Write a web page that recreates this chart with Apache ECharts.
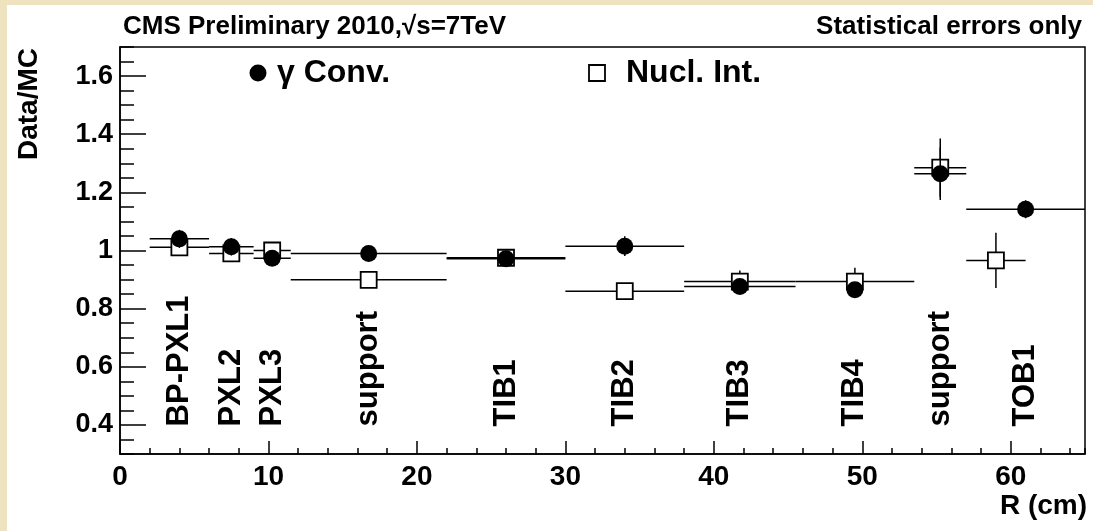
<!DOCTYPE html>
<html>
<head>
<meta charset="utf-8">
<script src="https://cdn.jsdelivr.net/npm/echarts@6/dist/echarts.min.js"></script>
<style>
html,body{margin:0;padding:0;background:#fff;}
#chart{width:1093px;height:531px;}
</style>
</head>
<body>
<div id="chart"></div>
<script>
// ---- data ----
const regionNames = ['BP-PXL1','PXL2','PXL3','support','TIB1','TIB2','TIB3','TIB4','support','TOB1'];
const regionR     = [4, 7.5, 10.25, 16.75, 26, 34, 41.75, 49.5, 55.25, 61];

const gammaR     = [4, 7.5, 10.25, 16.75, 26, 34, 41.75, 49.5, 55.25, 61];
const gammaRLow  = [2, 6, 9, 11.5, 22, 30, 38, 49.5, 53.5, 57];
const gammaRHigh = [6, 9, 11.5, 22, 30, 38, 45.5, 49.5, 57, 65];
const gammaRatio = [1.040, 1.013, 0.973, 0.990, 0.972, 1.015, 0.876, 0.865, 1.264, 1.142];
const gammaErr   = [0.031, 0.030, 0.025, 0.020, 0.020, 0.034, 0.025, 0.025, 0.090, 0.031];

const nuclR     = [4, 7.5, 10.25, 16.75, 26, 34, 41.75, 49.5, 55.25, 59];
const nuclRLow  = [2, 6, 9, 11.5, 22, 30, 38, 45.5, 53.5, 57];
const nuclRHigh = [6, 9, 11.5, 22, 30, 38, 45.5, 53.5, 57, 61];
const nuclRatio = [1.011, 0.990, 1.000, 0.899, 0.975, 0.860, 0.893, 0.893, 1.285, 0.966];
const nuclErr   = [0.020, 0.020, 0.020, 0.020, 0.030, 0.020, 0.038, 0.048, 0.100, 0.095];

const yTickValues = [0.4, 0.6, 0.8, 1.0, 1.2, 1.4, 1.6];

const FONT = "'Liberation Sans', Arial, Helvetica, sans-serif";

function bars(R, lo, hi, v, e) {
  return R.map((r, i) => [r, v[i], lo[i], hi[i], e[i]]);
}
function errRender(params, api) {
  const x = api.value(0), y = api.value(1), lo = api.value(2), hi = api.value(3), e = api.value(4);
  const pL = api.coord([lo, y]), pR = api.coord([hi, y]);
  const pT = api.coord([x, y + e]), pB = api.coord([x, y - e]);
  const st = {stroke: '#000', lineWidth: 1.5};
  return {type: 'group', children: [
    {type: 'line', shape: {x1: pL[0], y1: pL[1], x2: pR[0], y2: pR[1]}, style: st},
    {type: 'line', shape: {x1: pT[0], y1: pT[1], x2: pB[0], y2: pB[1]}, style: st}
  ]};
}

const chart = echarts.init(document.getElementById('chart'), null, {renderer: 'canvas'});
const option = {
  backgroundColor: '#ffffff',
  animation: false,
  title: [
    {text: 'CMS Preliminary 2010,\u221As=7TeV', left: 118, top: 9,
     textStyle: {fontFamily: FONT, fontWeight: 'bold', fontSize: 26, color: '#000'}},
    {text: 'Statistical errors only', right: 6, top: 9,
     textStyle: {fontFamily: FONT, fontWeight: 'bold', fontSize: 26, color: '#000'}}
  ],
  grid: {left: 120, right: 8, top: 47, bottom: 77, show: true, borderColor: '#000', borderWidth: 1.5, backgroundColor: 'transparent'},
  xAxis: [
    {type: 'value', min: 0, max: 65, interval: 10, position: 'bottom',
     axisLine: {lineStyle: {color: '#000', width: 1.5}},
     axisTick: {inside: true, length: 13, lineStyle: {color: '#000', width: 1.5}},
     axisLabel: {showMaxLabel: false, margin: 9, color: '#000', fontFamily: FONT, fontWeight: 'bold', fontSize: 28},
     splitLine: {show: false}},
    {type: 'value', min: 0, max: 65, interval: 2, position: 'bottom',
     axisLine: {show: false},
     axisTick: {inside: true, length: 6, lineStyle: {color: '#000', width: 1.5}},
     axisLabel: {show: false}, splitLine: {show: false}}
  ],
  yAxis: [
    {type: 'value', min: 0.3, max: 1.7, position: 'left',
     axisLine: {lineStyle: {color: '#000', width: 1.5}},
     axisTick: {inside: true, length: 26, customValues: yTickValues, lineStyle: {color: '#000', width: 1.5}},
     axisLabel: {customValues: yTickValues, margin: 7, color: '#000', fontFamily: FONT, fontWeight: 'bold', fontSize: 27,
                 formatter: v => String(Math.round(v * 10) / 10)},
     splitLine: {show: false}},
    {type: 'value', min: 0.3, max: 1.7, interval: 0.05, position: 'left',
     axisLine: {show: false},
     axisTick: {inside: true, length: 14, lineStyle: {color: '#000', width: 1.5}},
     axisLabel: {show: false}, splitLine: {show: false}}
  ],
  graphic: [
    {type: 'rect', shape: {x: 0, y: 0, width: 7, height: 531}, style: {fill: '#EFE3BF'}, z: -10},
    {type: 'rect', shape: {x: 0, y: 0, width: 1093, height: 5}, style: {fill: '#EFE3BF'}, z: -10},
    {type: 'text', x: 29, y: 48, rotation: Math.PI / 2,
     style: {text: 'Data/MC', fontFamily: FONT, fontWeight: 'bold', fontSize: 28, fill: '#000', align: 'right', verticalAlign: 'middle'}},
    {type: 'text', x: 1087, y: 506,
     style: {text: 'R (cm)', fontFamily: FONT, fontWeight: 'bold', fontSize: 28, fill: '#000', align: 'right', verticalAlign: 'middle'}},
    {type: 'circle', shape: {cx: 258, cy: 73, r: 8.5}, style: {fill: '#000'}},
    {type: 'text', x: 277, y: 73,
     style: {text: '\u03B3 Conv.', fontFamily: FONT, fontWeight: 'bold', fontSize: 32, fill: '#000', align: 'left', verticalAlign: 'middle'}},
    {type: 'rect', shape: {x: 589, y: 65, width: 16, height: 16}, style: {fill: '#fff', stroke: '#000', lineWidth: 1.8}},
    {type: 'text', x: 626, y: 73,
     style: {text: 'Nucl. Int.', fontFamily: FONT, fontWeight: 'bold', fontSize: 32, fill: '#000', align: 'left', verticalAlign: 'middle'}}
  ],
  series: [
    {name: 'Nucl. Int. errors', type: 'custom', xAxisIndex: 0, yAxisIndex: 0, z: 2,
     renderItem: errRender, encode: {x: 0, y: 1},
     data: bars(nuclR, nuclRLow, nuclRHigh, nuclRatio, nuclErr)},
    {name: 'Nucl. Int.', type: 'scatter', xAxisIndex: 0, yAxisIndex: 0, z: 3,
     symbol: 'rect', symbolSize: 16,
     itemStyle: {color: '#fff', borderColor: '#000', borderWidth: 1.8, opacity: 1},
     data: nuclR.map((r, i) => [r, nuclRatio[i]])},
    {name: '\u03B3 Conv. errors', type: 'custom', xAxisIndex: 0, yAxisIndex: 0, z: 4,
     renderItem: errRender, encode: {x: 0, y: 1},
     data: bars(gammaR, gammaRLow, gammaRHigh, gammaRatio, gammaErr)},
    {name: '\u03B3 Conv.', type: 'scatter', xAxisIndex: 0, yAxisIndex: 0, z: 5,
     symbol: 'circle', symbolSize: 17,
     itemStyle: {color: '#000', opacity: 1},
     data: gammaR.map((r, i) => [r, gammaRatio[i]])},
    {name: 'regions', type: 'custom', xAxisIndex: 0, yAxisIndex: 0, z: 6,
     encode: {x: 0, y: 1},
     renderItem: function (params, api) {
       const p = api.coord([api.value(0), api.value(1)]);
       return {type: 'text', x: p[0], y: p[1], rotation: Math.PI / 2,
               style: {text: regionNames[params.dataIndex], fontFamily: FONT, fontWeight: 'bold', fontSize: 31,
                       fill: '#000', align: 'left', verticalAlign: 'middle'}};
     },
     data: regionR.map(r => [r, 0.395])}
  ]
};
chart.setOption(option);
</script>
</body>
</html>
